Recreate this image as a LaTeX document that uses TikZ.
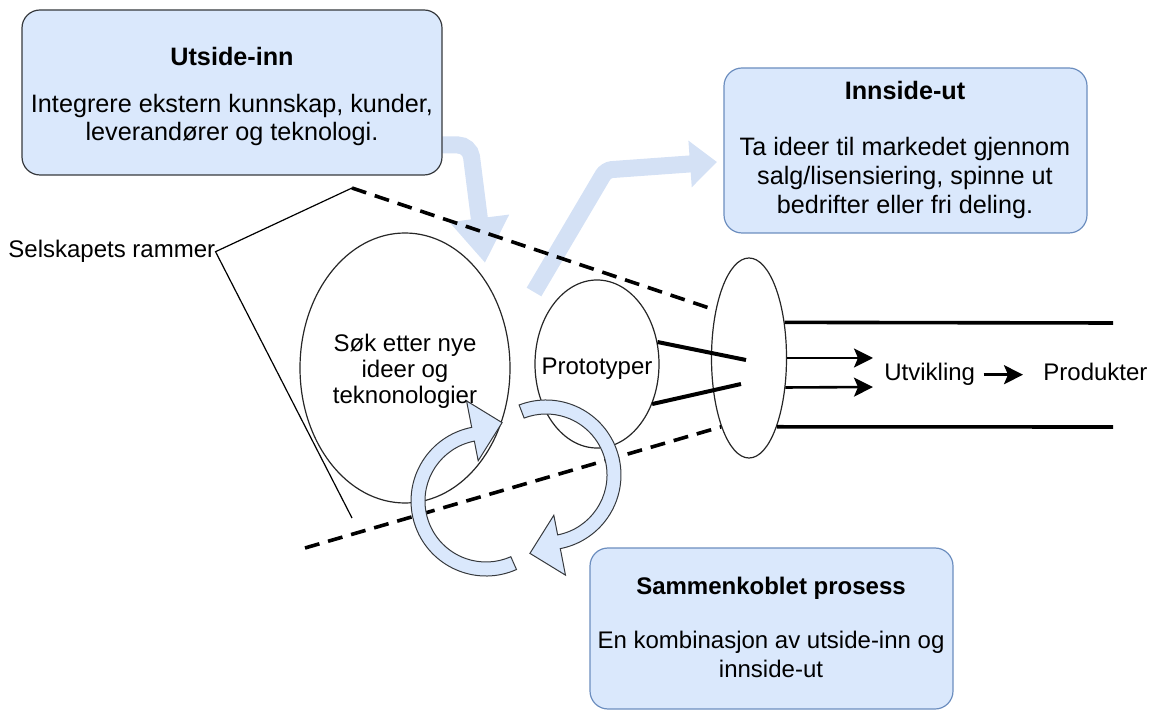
\documentclass[tikz,border=0pt]{standalone}
\usepackage{fontspec}
\setmainfont{Liberation Sans}
\usetikzlibrary{shapes.geometric,arrows.meta}

\definecolor{panelfill}{HTML}{DAE8FC}
\definecolor{panelline}{HTML}{6C8EBF}
\definecolor{flowblue}{HTML}{D4E1F5}
\definecolor{inkgray}{HTML}{36393D}

\begin{document}
\begin{tikzpicture}[x=0.5pt,y=-0.5pt,
  panel/.style={draw=panelline, fill=panelfill, rounded corners=9pt, line width=0.6pt, inner sep=0pt},
  headline/.style={inner sep=0pt, text height=8.8pt, text depth=0pt},
  blurb/.style={inner sep=0pt, align=center},
  plain/.style={inner sep=0pt, font=\fontsize{12}{14}\selectfont, text height=8.8pt, text depth=2.5pt},
  bubble/.style={ellipse, draw=black!85, line width=0.6pt, inner sep=0pt},
  boundary/.style={black, line width=1.8pt, dash pattern=on 7.5pt off 4.5pt},
  rail/.style={black, line width=1.8pt},
  spoke/.style={black, line width=2pt},
  flow/.style={draw=flowblue, line width=8.5pt},
  swirl/.style={fill=panelfill, draw=inkgray, line width=0.5pt, line join=miter},
  outflow/.style={black, line width=1.3pt, -{Stealth[length=9.5pt,width=9.5pt,inset=2pt]}},
]
\useasboundingbox (0,0) rectangle (1150,710);

% fixed points of the frame and the flows
\coordinate (frameTop) at (352,188);
\coordinate (frameLow) at (352,518);
\coordinate (frameBot) at (305,548);
\coordinate (uiOut) at (442,145);
\coordinate (uiBend) at (470,145);
\coordinate (uiTip) at (485,263);
\coordinate (ioFoot) at (534,292);
\coordinate (ioBend) at (606,170);
\coordinate (ioTip) at (717,162);
\coordinate (railTopEnd) at (1113,323);
\coordinate (railBotEnd) at (1113,427);
\coordinate (spokeA) at (746,360);
\coordinate (spokeB) at (741,384);
\coordinate (outA) at (873,358);
\coordinate (outB) at (873,387);

% broad flow arrows (behind everything)
\draw[flow, rounded corners=6pt, -{Triangle[length=22.5pt,width=28.5pt]}]
  (uiOut) -- (uiBend) -- (uiTip);
\draw[flow, rounded corners=3pt, -{Triangle[length=13.5pt,width=22.5pt]}]
  (ioFoot) -- (ioBend) -- (ioTip);

% panels
\node[panel, draw=inkgray, minimum width=210pt, minimum height=82.5pt] (ui) at (232,92.5) {};
\node[headline, font=\bfseries\fontsize{12.6}{15}\selectfont] (uiTitle) at (232,57) {Utside-inn};
\node[blurb, font=\fontsize{12.6}{14.2}\selectfont] (uiText) at (232,120)
  {Integrere ekstern kunnskap, kunder,\\leverandører og teknologi.};

\node[panel, minimum width=181.5pt, minimum height=82.5pt] (io) at (905.5,150.5) {};
\node[headline, font=\bfseries\fontsize{12.6}{15}\selectfont] (ioTitle) at (905,91) {Innside-ut};
\node[blurb, font=\fontsize{12.6}{14.5}\selectfont] (ioText) at (905,178)
  {Ta ideer til markedet gjennom\\salg/lisensiering, spinne ut\\bedrifter eller fri deling.};

\node[panel, minimum width=181.5pt, minimum height=80.5pt] (mix) at (771.5,628.5) {};
\node[headline, font=\bfseries\fontsize{12}{14}\selectfont] (mixTitle) at (771,586) {Sammenkoblet prosess};
\node[blurb, font=\fontsize{12}{14.5}\selectfont] (mixText) at (771,654)
  {En kombinasjon av utside-inn og\\innside-ut};

% ellipses
\node[bubble, minimum width=105pt, minimum height=135pt] (search) at (405,368) {};
\node[blurb, font=\fontsize{12}{13}\selectfont] (searchText) at (405,371)
  {Søk etter nye\\ideer og\\teknonologier};
\node[bubble, minimum width=62pt, minimum height=84pt] (proto) at (597,364) {};
\node[plain] (protoText) at (597,368) {Prototyper};
\node[bubble, minimum width=37.5pt, minimum height=100pt] (gate) at (749,358) {};

% company frame
\node[plain, anchor=base west] (frameLabel) at (8,258) {Selskapets rammer};
\draw[black, line width=0.6pt] (frameTop) -- (frameLabel.east) -- (frameLow);
\draw[boundary] (frameTop) -- (gate.125);
\draw[boundary] (frameBot) -- (gate.248);

% prototypes feeding the gate
\draw[spoke] (proto.20) -- (spokeA);
\draw[spoke] (proto.-36) -- (spokeB);

% development rails and outputs
\draw[rail] (gate.45) -- (railTopEnd);
\draw[rail] (gate.-68.6) -- (railBotEnd);
\draw[outflow] (gate.east) -- (outA);
\draw[outflow] (gate.-39) -- (outB);
\node[plain, anchor=base west] (dev) at (884,381) {Utvikling};
\node[plain, anchor=base west] (prod) at (1043,381) {Produkter};
\draw[outflow, shorten <=4pt, shorten >=10pt] (dev.east) -- (prod.west);

% coupled process: two curved arrows
\begin{scope}[shift={(546,475)}]
  \path[swirl] (-111:75) arc[start angle=-111, end angle=79, radius=75]
    -- (79:102) -- (101.6:80) -- (79:41) -- (79:61)
    arc[start angle=79, end angle=-111, radius=61] -- cycle;
\end{scope}
\begin{scope}[shift={(486,501)}]
  \path[swirl] (66:75) arc[start angle=66, end angle=259, radius=75]
    -- (259:102) -- (281.6:80) -- (259:41) -- (259:61)
    arc[start angle=259, end angle=66, radius=61] -- cycle;
\end{scope}
\end{tikzpicture}
\end{document}
